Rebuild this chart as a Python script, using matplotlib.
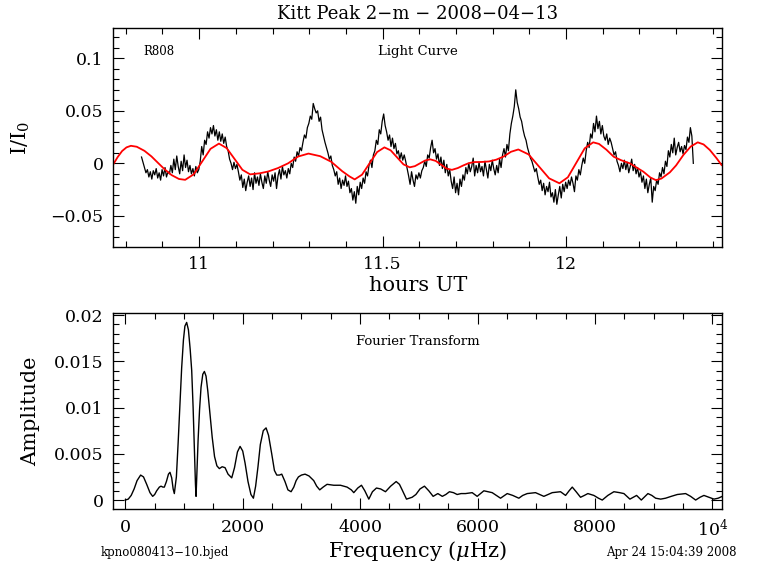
import numpy as np
import matplotlib
matplotlib.use("Agg")
import matplotlib.pyplot as plt
from matplotlib.ticker import MultipleLocator, FuncFormatter

plt.rcParams['font.family'] = 'DejaVu Serif'
plt.rcParams['mathtext.fontset'] = 'dejavuserif'

# light curve: first point (hours UT), cadence (hours), flux in units of 1e-3
lc_start = 10.843
lc_step = 0.004
lc_milli = [
    6, 1, -4, -9, -6, -13, -8, -15, -7, -11,
    -5, -14, -9, -16, -6, -12, -4, -13, -8, -10,
    -2, -9, 4, -6, 7, -3, -10, 2, -7, 8,
    -4, 3, -8, -2, -10, -5, -12, -3, -9, -6,
    2, 16, 8, 22, 18, 30, 24, 34, 28, 36,
    26, 32, 22, 30, 21, 28, 19, 25, 16, 12,
    4, 0, -6, 1, -5, -1, -8, -16, -11, -23,
    -15, -26, -18, -12, -22, -14, -25, -9, -19, -13,
    -21, -10, -18, -24, -12, -19, -8, -16, -22, -11,
    -17, -9, -24, -12, -6, -15, -3, -11, -7, -14,
    -5, -10, 0, -4, 6, 2, 11, 7, 15, 12,
    20, 27, 24, 34, 38, 45, 42, 57, 52, 48,
    50, 40, 44, 32, 26, 20, 15, 10, 4, 7,
    -2, -6, -12, -8, -20, -14, -24, -16, -21, -12,
    -22, -17, -28, -24, -35, -27, -38, -22, -30, -18,
    -24, -14, -19, -8, -12, -2, 3, -4, 8, 12,
    22, 18, 32, 28, 40, 47, 36, 30, 22, 27,
    16, 24, 14, 19, 9, 12, 4, 10, 3, 8,
    2, -5, -12, -20, -8, -16, -22, -11, -15, -9,
    -14, -7, -4, 2, -3, 8, 5, 15, 22, 10,
    14, 4, 9, -2, 6, -5, 3, -9, -1, -12,
    -6, -17, -24, -13, -28, -19, -30, -15, -22, -11,
    -16, -4, -10, 0, -8, -3, 5, -12, -2, -9,
    1, -8, -3, -12, 2, -6, -14, -1, -7, 3,
    -5, -11, -2, -9, 4, -4, 8, 14, 6, 18,
    12, 28, 38, 45, 54, 70, 58, 52, 44, 40,
    32, 26, 22, 15, 10, 5, 2, -3, -8, -5,
    -13, -20, -16, -26, -19, -30, -22, -27, -18, -32,
    -28, -37, -25, -39, -30, -22, -33, -20, -27, -18,
    -24, -16, -21, -13, -19, -27, -12, -16, -6, -11,
    -2, 5, 0, 12, 20, 15, 28, 24, 38, 30,
    45, 33, 40, 28, 36, 26, 22, 28, 18, 24,
    20, 14, 8, 11, 2, -2, -8, 0, -5, 3,
    -6, 1, -9, -3, 4, -7, -1, -10, -4, -13,
    -8, -18, -12, -24, -15, -28, -20, -14, -37, -22,
    -26, -16, -20, -9, -13, -4, -10, 2, -3, 12,
    6, 18, 10, 24, 8, 15, 20, 11, 16, 9,
    17, 13, 25, 20, 34, 26, 0,
]

# multi-sine fit (red)
fit_hours = [10.766, 10.778, 10.790, 10.802, 10.814, 10.830, 10.851, 10.870, 10.888, 10.905,
             10.925, 10.945, 10.962, 10.985, 11.008, 11.031, 11.054, 11.075, 11.0965, 11.118,
             11.139, 11.165, 11.188, 11.215, 11.2425, 11.27, 11.298, 11.33, 11.36, 11.39,
             11.41, 11.424, 11.444, 11.4645, 11.485, 11.505, 11.522, 11.5395, 11.557, 11.574,
             11.588, 11.602, 11.616, 11.630, 11.645, 11.6595, 11.674, 11.689, 11.705, 11.72,
             11.735, 11.75, 11.77, 11.79, 11.81, 11.83, 11.85, 11.87, 11.898, 11.926,
             11.954, 11.982, 12.005, 12.028, 12.051, 12.074, 12.09, 12.11, 12.13, 12.15,
             12.174, 12.19, 12.211, 12.23, 12.245, 12.26, 12.283, 12.30, 12.32, 12.34,
             12.359, 12.375, 12.392, 12.41, 12.424]
fit_flux = [-0.001, 0.006, 0.0117, 0.0152, 0.0167, 0.0158, 0.0119, 0.0066, 0.0004, -0.0054,
            -0.0112, -0.0149, -0.0157, -0.0105, 0.0016, 0.0138, 0.0188, 0.0145, 0.0042, -0.0062,
            -0.0105, -0.0095, -0.0078, -0.0045, 0.0, 0.0065, 0.0093, 0.0068, 0.0015, -0.0075,
            -0.0125, -0.0153, -0.0108, 0.0, 0.0107, 0.0152, 0.0124, 0.0057, -0.001, -0.0038,
            -0.0027, 0.0, 0.0027, 0.0038, 0.0023, -0.0013, -0.0049, -0.0062, -0.0045, -0.002,
            0.0002, 0.0012, 0.0013, 0.0018, 0.0035, 0.0065, 0.011, 0.0132, 0.0085, -0.0029,
            -0.0143, -0.019, -0.0133, 0.0005, 0.0143, 0.020, 0.0185, 0.013, 0.0063, 0.003,
            0.0, -0.0035, -0.008, -0.0135, -0.016, -0.0145, -0.0086, -0.002, 0.008, 0.016,
            0.020, 0.018, 0.0127, 0.005, -0.0016]

# amplitude spectrum
ft_freq = [0, 50, 100, 150, 200, 261, 310, 364, 420, 466,
           500, 534, 580, 608, 640, 665, 700, 735, 761, 790,
           815, 835, 870, 900, 932, 960, 990, 1015, 1045, 1075,
           1105, 1131, 1155, 1180, 1195, 1205, 1220, 1240, 1265, 1290,
           1320, 1347, 1375, 1405, 1443, 1480, 1520, 1560, 1602, 1650,
           1699, 1750, 1813, 1860, 1910, 1955, 2000, 2040, 2090, 2140,
           2182, 2220, 2260, 2300, 2350, 2398, 2440, 2494, 2540, 2580,
           2625, 2665, 2720, 2770, 2824, 2870, 2910, 2949, 3000, 3062,
           3130, 3210, 3260, 3312, 3370, 3437, 3551, 3665, 3778, 3850,
           3892, 3960, 4023, 4080, 4148, 4210, 4278, 4350, 4432, 4520,
           4614, 4670, 4716, 4790, 4886, 4950, 5020, 5096, 5170, 5244,
           5324, 5400, 5460, 5522, 5590, 5653, 5720, 5795, 5909, 5994,
           6108, 6180, 6250, 6320, 6392, 6506, 6600, 6704, 6770, 6847,
           6988, 7060, 7130, 7200, 7273, 7414, 7500, 7560, 7614, 7680,
           7755, 7820, 7880, 7982, 8060, 8125, 8220, 8323, 8420, 8494,
           8596, 8710, 8790, 8903, 8970, 9034, 9120, 9204, 9300, 9404,
           9545, 9630, 9716, 9790, 9857, 9940, 10028, 10100, 10170]
ft_amp = [0.0, 0.0001, 0.0005, 0.0012, 0.0021, 0.0027, 0.0025, 0.0017, 0.0008, 0.0004,
          0.0006, 0.0010, 0.0014, 0.0015, 0.0014, 0.0014, 0.0020, 0.0028, 0.0030, 0.0024,
          0.0012, 0.0007, 0.0025, 0.0062, 0.0104, 0.0143, 0.0173, 0.0188, 0.0192, 0.0184,
          0.0163, 0.0140, 0.0100, 0.0050, 0.0017, 0.0004, 0.0030, 0.0065, 0.0098, 0.0122,
          0.0136, 0.0139, 0.0134, 0.0118, 0.0093, 0.0068, 0.0047, 0.0037, 0.0034, 0.0036,
          0.0035, 0.0028, 0.0024, 0.0035, 0.0052, 0.0058, 0.0053, 0.0040, 0.0020, 0.0006,
          0.0002, 0.0015, 0.0036, 0.0060, 0.0075, 0.0078, 0.0070, 0.0050, 0.0032, 0.0027,
          0.0027, 0.0028, 0.0020, 0.0011, 0.0009, 0.0014, 0.0021, 0.0025, 0.0027, 0.0028,
          0.0026, 0.0021, 0.0015, 0.0011, 0.0014, 0.0017, 0.0016, 0.0016, 0.0014, 0.0011,
          0.0008, 0.0013, 0.0016, 0.0010, 0.0001, 0.0009, 0.0013, 0.0012, 0.0009, 0.0015,
          0.0020, 0.0017, 0.0011, 0.0001, 0.0003, 0.0006, 0.0012, 0.0015, 0.0010, 0.0004,
          0.0007, 0.0004, 0.0006, 0.0009, 0.0008, 0.0006, 0.0007, 0.0007, 0.0008, 0.0004,
          0.0010, 0.0009, 0.0008, 0.0005, 0.0002, 0.0007, 0.0005, 0.0002, 0.0005, 0.0007,
          0.0008, 0.0006, 0.0004, 0.0006, 0.0008, 0.0009, 0.0005, 0.0010, 0.0014, 0.0009,
          0.0003, 0.0005, 0.0007, 0.0005, 0.0002, 0.0000, 0.0005, 0.0009, 0.0008, 0.0007,
          0.0001, 0.0005, 0.0000, 0.0007, 0.0005, 0.0002, 0.0001, 0.0002, 0.0004, 0.0006,
          0.0007, 0.0004, 0.0000, 0.0003, 0.0005, 0.0003, 0.0001, 0.0002, 0.0004]

lc_hours = lc_start + lc_step * np.arange(len(lc_milli))
lc_flux = np.array(lc_milli) / 1000.0


def gfmt(v, pos):
    return ('%g' % round(v, 6)).replace('-', '\u2212')


def ffmt(v, pos):
    if abs(v - 10000) < 1:
        return r'$10^4$'
    return '%g' % round(v, 3)


def style(ax):
    ax.tick_params(which='both', direction='in', top=True, right=True,
                   labelsize=12.5, width=0.8)
    ax.tick_params(which='major', length=8, pad=7)
    ax.tick_params(which='minor', length=4.5)
    for s in ax.spines.values():
        s.set_linewidth(1.0)


fig = plt.figure(figsize=(7.68, 5.74), dpi=100)
ax1 = fig.add_axes([0.1475, 0.5702, 0.7930, 0.3805])
ax2 = fig.add_axes([0.1475, 0.1132, 0.7930, 0.3420])

# light curve
ax1.plot(lc_hours, lc_flux, color='black', lw=0.9)
ax1.plot(fit_hours, fit_flux, color='red', lw=1.3)
ax1.set_xlim(10.766, 12.426)
ax1.set_ylim(-0.0794, 0.1286)
ax1.xaxis.set_major_locator(MultipleLocator(0.5))
ax1.xaxis.set_minor_locator(MultipleLocator(0.1))
ax1.yaxis.set_major_locator(MultipleLocator(0.05))
ax1.yaxis.set_minor_locator(MultipleLocator(0.01))
ax1.xaxis.set_major_formatter(FuncFormatter(gfmt))
ax1.yaxis.set_major_formatter(FuncFormatter(gfmt))
style(ax1)
ax1.set_xlabel('hours UT', fontsize=15)
ax1.set_ylabel(r'I/I$_0$', fontsize=15)
ax1.xaxis.set_label_coords(0.5, -0.134)
ax1.yaxis.set_label_coords(-0.133, 0.5)
ax1.text(0.0755, 0.896, 'R808', transform=ax1.transAxes, fontsize=8.5,
         ha='center', va='center')
ax1.text(0.5, 0.896, 'Light Curve', transform=ax1.transAxes, fontsize=9.5,
         ha='center', va='center')

# Fourier transform
ax2.plot(ft_freq, ft_amp, color='black', lw=1.0)
ax2.set_xlim(-205, 10170)
ax2.set_ylim(-0.00097, 0.02025)
ax2.xaxis.set_major_locator(MultipleLocator(2000))
ax2.xaxis.set_minor_locator(MultipleLocator(500))
ax2.yaxis.set_major_locator(MultipleLocator(0.005))
ax2.yaxis.set_minor_locator(MultipleLocator(0.001))
ax2.xaxis.set_major_formatter(FuncFormatter(ffmt))
ax2.yaxis.set_major_formatter(FuncFormatter(gfmt))
style(ax2)
ax2.set_xlabel(r'Frequency ($\mu$Hz)', fontsize=15)
ax2.set_ylabel('Amplitude', fontsize=15)
ax2.xaxis.set_label_coords(0.5, -0.155)
ax2.yaxis.set_label_coords(-0.12, 0.5)
ax2.text(0.5, 0.851, 'Fourier Transform', transform=ax2.transAxes, fontsize=9.5,
         ha='center', va='center')

fig.text(0.5436, 0.9756, 'Kitt Peak 2\u2212m \u2212 2008\u221204\u221213',
         fontsize=13, ha='center', va='center')
fig.text(0.215, 0.0383, 'kpno080413\u221210.bjed', fontsize=8.5,
         ha='center', va='center')
fig.text(0.874, 0.0383, 'Apr 24 15:04:39 2008', fontsize=8.5,
         ha='center', va='center')

fig.savefig('out.png', dpi=100)
